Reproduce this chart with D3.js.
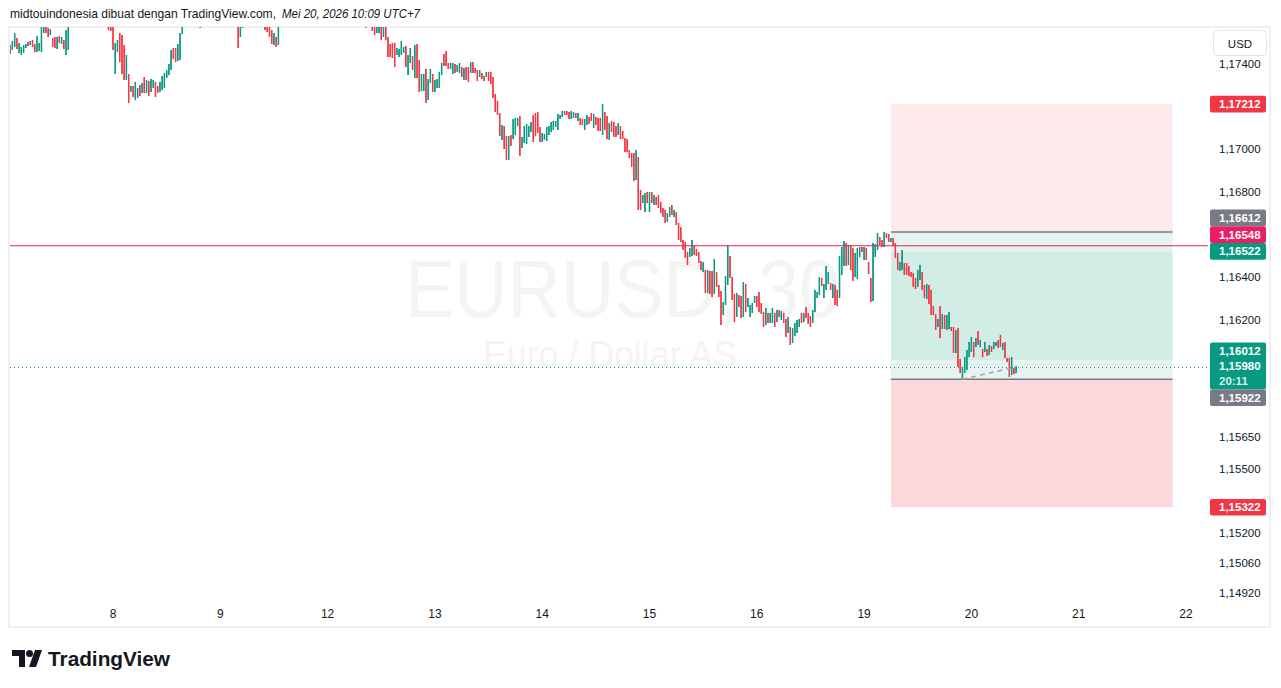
<!DOCTYPE html>
<html>
<head>
<meta charset="utf-8">
<script src="https://cdn.jsdelivr.net/npm/d3@7"></script>
<style>
  body { margin: 0; background: #ffffff; }
  svg { display: block; font-family: "Liberation Sans", Arial, sans-serif; }
</style>
</head>
<body>
<svg id="chart"></svg>
<script>
//data: EURUSD 30 min candles, first bar 7 Mei 2026 01:00 (UTC+7)
const opens = [
  1.17489,1.17466,1.17480,1.17522,1.17452,1.17442,1.17452,1.17475,1.17503,1.17489,
  1.17512,1.17494,1.17456,1.17461,1.17456,1.17545,1.17597,1.17569,1.17536,1.17522,
  1.17527,1.17470,1.17531,1.17494,1.17512,1.17442,1.17466,1.17597,1.17644,1.17738,
  1.17677,1.17747,1.17719,1.17681,1.17728,1.17709,1.17653,1.17691,1.17756,1.17728,
  1.17700,1.17653,1.17691,1.17653,1.17616,1.17606,1.17578,1.17353,1.17456,1.17545,
  1.17536,1.17489,1.17325,1.17353,1.17269,1.17297,1.17231,1.17241,1.17302,1.17264,
  1.17339,1.17264,1.17320,1.17269,1.17288,1.17316,1.17297,1.17269,1.17278,1.17288,
  1.17334,1.17348,1.17372,1.17475,1.17475,1.17414,1.17419,1.17541,1.17578,1.17630,
  1.17738,1.17677,1.17756,1.17700,1.17747,1.17569,1.17587,1.17653,1.17738,1.17691,
  1.17709,1.17784,1.17756,1.17691,1.17766,1.17738,1.17662,1.17691,1.17756,1.17728,
  1.17700,1.17625,1.17597,1.17527,1.17569,1.17606,1.17728,1.17672,1.17747,1.17691,
  1.17747,1.17719,1.17644,1.17700,1.17630,1.17606,1.17597,1.17559,1.17489,1.17527,
  1.17489,1.17606,1.17653,1.17747,1.17709,1.17766,1.17728,1.17747,1.17813,1.17784,
  1.17738,1.17794,1.17756,1.17813,1.17775,1.17719,1.17784,1.17756,1.17700,1.17728,
  1.17794,1.17766,1.17738,1.17681,1.17709,1.17775,1.17747,1.17691,1.17756,1.17719,
  1.17662,1.17691,1.17747,1.17719,1.17653,1.17709,1.17681,1.17616,1.17672,1.17644,
  1.17578,1.17634,1.17606,1.17597,1.17545,1.17545,1.17597,1.17527,1.17587,1.17527,
  1.17494,1.17498,1.17498,1.17442,1.17433,1.17442,1.17452,1.17484,1.17348,1.17405,
  1.17437,1.17334,1.17494,1.17419,1.17273,1.17273,1.17377,1.17231,1.17311,1.17353,
  1.17269,1.17288,1.17288,1.17348,1.17447,1.17461,1.17405,1.17377,1.17353,1.17400,
  1.17363,1.17358,1.17386,1.17325,1.17386,1.17386,1.17358,1.17409,1.17381,1.17372,
  1.17339,1.17358,1.17344,1.17339,1.17363,1.17363,1.17339,1.17259,1.17227,1.17170,
  1.17044,1.17109,1.17062,1.16950,1.17067,1.17048,1.17067,1.17109,1.17156,1.17006,
  1.17030,1.17025,1.17058,1.17081,1.17161,1.17170,1.17175,1.17105,1.17034,1.17044,
  1.17039,1.17067,1.17081,1.17091,1.17105,1.17091,1.17142,1.17152,1.17180,1.17180,
  1.17175,1.17142,1.17147,1.17170,1.17133,1.17147,1.17142,1.17091,1.17114,1.17152,
  1.17170,1.17100,1.17152,1.17147,1.17147,1.17067,1.17175,1.17156,1.17044,1.17133,
  1.17128,1.17109,1.17067,1.17109,1.17086,1.17053,1.17048,1.16997,1.16983,1.16983,
  1.16856,1.16964,1.16809,1.16748,1.16706,1.16800,1.16706,1.16800,1.16739,1.16776,
  1.16786,1.16753,1.16725,1.16716,1.16659,1.16683,1.16739,1.16683,1.16706,1.16655,
  1.16636,1.16575,1.16566,1.16519,1.16495,1.16500,1.16547,1.16533,1.16519,1.16476,
  1.16425,1.16434,1.16326,1.16430,1.16430,1.16322,1.16425,1.16364,1.16336,1.16223,
  1.16270,1.16364,1.16500,1.16401,1.16322,1.16214,1.16317,1.16312,1.16214,1.16369,
  1.16261,1.16214,1.16233,1.16280,1.16312,1.16331,1.16280,1.16237,1.16176,1.16233,
  1.16186,1.16186,1.16233,1.16190,1.16247,1.16200,1.16233,1.16205,1.16139,1.16167,
  1.16092,1.16125,1.16139,1.16167,1.16233,1.16190,1.16261,1.16233,1.16219,1.16186,
  1.16237,1.16303,1.16317,1.16397,1.16303,1.16341,1.16369,1.16373,1.16303,1.16364,
  1.16341,1.16303,1.16411,1.16453,1.16561,1.16458,1.16551,1.16537,1.16401,1.16392,
  1.16495,1.16542,1.16481,1.16537,1.16472,1.16397,1.16289,1.16495,1.16528,1.16589,
  1.16575,1.16542,1.16606,1.16603,1.16566,1.16584,1.16561,1.16514,1.16430,1.16434,
  1.16467,1.16467,1.16453,1.16425,1.16420,1.16397,1.16355,1.16387,1.16425,1.16364,
  1.16298,1.16364,1.16341,1.16265,1.16228,1.16167,1.16265,1.16158,1.16223,1.16153,
  1.16158,1.16167,1.16167,1.16045,1.16162,1.16017,1.15922,1.15951,1.15965,1.16026,
  1.16050,1.16097,1.16073,1.16148,1.16073,1.16064,1.16050,1.16064,1.16036,1.16078,
  1.16064,1.16078,1.16106,1.16130,1.16059,1.16097,1.16022,1.16022,1.15942,1.15975,
  1.15951
]
const highs = [
  1.17489,1.17508,1.17545,1.17522,1.17498,1.17480,1.17489,1.17494,1.17503,1.17508,
  1.17512,1.17494,1.17531,1.17498,1.17573,1.17597,1.17597,1.17569,1.17564,1.17522,
  1.17527,1.17527,1.17531,1.17527,1.17512,1.17559,1.17606,1.17677,1.17723,1.17738,
  1.17756,1.17747,1.17719,1.17738,1.17728,1.17709,1.17728,1.17766,1.17756,1.17728,
  1.17700,1.17719,1.17691,1.17653,1.17616,1.17606,1.17578,1.17498,1.17512,1.17545,
  1.17536,1.17489,1.17442,1.17353,1.17297,1.17297,1.17316,1.17288,1.17302,1.17311,
  1.17339,1.17325,1.17320,1.17330,1.17325,1.17316,1.17297,1.17316,1.17344,1.17358,
  1.17372,1.17400,1.17466,1.17475,1.17475,1.17494,1.17545,1.17587,1.17677,1.17723,
  1.17738,1.17770,1.17756,1.17784,1.17747,1.17662,1.17691,1.17728,1.17738,1.17766,
  1.17794,1.17784,1.17756,1.17775,1.17766,1.17738,1.17747,1.17766,1.17756,1.17728,
  1.17700,1.17709,1.17597,1.17616,1.17653,1.17700,1.17728,1.17756,1.17747,1.17770,
  1.17747,1.17719,1.17728,1.17700,1.17630,1.17606,1.17597,1.17559,1.17545,1.17527,
  1.17630,1.17700,1.17738,1.17747,1.17775,1.17766,1.17794,1.17822,1.17813,1.17784,
  1.17803,1.17794,1.17822,1.17813,1.17775,1.17794,1.17784,1.17756,1.17775,1.17803,
  1.17794,1.17766,1.17738,1.17756,1.17784,1.17775,1.17747,1.17766,1.17756,1.17719,
  1.17738,1.17766,1.17747,1.17719,1.17728,1.17709,1.17681,1.17700,1.17672,1.17644,
  1.17653,1.17634,1.17606,1.17597,1.17597,1.17606,1.17597,1.17597,1.17587,1.17527,
  1.17494,1.17498,1.17498,1.17475,1.17470,1.17508,1.17480,1.17484,1.17442,1.17475,
  1.17437,1.17489,1.17494,1.17419,1.17353,1.17353,1.17377,1.17330,1.17377,1.17353,
  1.17325,1.17330,1.17363,1.17405,1.17447,1.17461,1.17405,1.17405,1.17405,1.17400,
  1.17395,1.17405,1.17386,1.17381,1.17386,1.17386,1.17409,1.17409,1.17381,1.17372,
  1.17372,1.17358,1.17344,1.17363,1.17363,1.17363,1.17339,1.17259,1.17227,1.17170,
  1.17114,1.17109,1.17062,1.17062,1.17067,1.17142,1.17147,1.17147,1.17156,1.17058,
  1.17109,1.17119,1.17109,1.17128,1.17161,1.17170,1.17175,1.17105,1.17077,1.17072,
  1.17105,1.17109,1.17128,1.17133,1.17133,1.17166,1.17161,1.17180,1.17180,1.17180,
  1.17175,1.17180,1.17175,1.17170,1.17170,1.17147,1.17142,1.17142,1.17161,1.17152,
  1.17170,1.17166,1.17152,1.17147,1.17147,1.17212,1.17175,1.17156,1.17123,1.17133,
  1.17128,1.17109,1.17123,1.17109,1.17086,1.17053,1.17048,1.16997,1.16983,1.16983,
  1.16997,1.16964,1.16809,1.16786,1.16795,1.16800,1.16800,1.16800,1.16786,1.16776,
  1.16786,1.16753,1.16725,1.16716,1.16701,1.16730,1.16739,1.16716,1.16706,1.16655,
  1.16636,1.16575,1.16566,1.16519,1.16537,1.16575,1.16547,1.16533,1.16519,1.16476,
  1.16472,1.16434,1.16434,1.16430,1.16430,1.16486,1.16425,1.16364,1.16336,1.16284,
  1.16406,1.16551,1.16500,1.16401,1.16322,1.16326,1.16317,1.16312,1.16378,1.16369,
  1.16303,1.16270,1.16280,1.16312,1.16312,1.16331,1.16280,1.16237,1.16256,1.16233,
  1.16233,1.16256,1.16233,1.16247,1.16247,1.16242,1.16233,1.16205,1.16214,1.16167,
  1.16162,1.16186,1.16200,1.16205,1.16233,1.16233,1.16261,1.16233,1.16219,1.16247,
  1.16341,1.16331,1.16401,1.16397,1.16369,1.16453,1.16425,1.16373,1.16369,1.16364,
  1.16341,1.16500,1.16542,1.16570,1.16561,1.16551,1.16551,1.16537,1.16514,1.16537,
  1.16542,1.16542,1.16542,1.16537,1.16472,1.16397,1.16561,1.16556,1.16608,1.16589,
  1.16575,1.16612,1.16606,1.16603,1.16584,1.16584,1.16561,1.16514,1.16472,1.16528,
  1.16467,1.16467,1.16453,1.16425,1.16420,1.16397,1.16434,1.16458,1.16425,1.16364,
  1.16369,1.16364,1.16341,1.16265,1.16228,1.16205,1.16265,1.16228,1.16223,1.16223,
  1.16237,1.16167,1.16167,1.16153,1.16162,1.16017,1.15980,1.16026,1.16059,1.16097,
  1.16120,1.16097,1.16115,1.16148,1.16106,1.16064,1.16097,1.16064,1.16083,1.16078,
  1.16097,1.16097,1.16106,1.16130,1.16092,1.16097,1.16022,1.16022,1.16026,1.15975,
  1.15985
]
const lows = [
  1.17447,1.17466,1.17480,1.17470,1.17452,1.17442,1.17452,1.17475,1.17484,1.17489,
  1.17480,1.17456,1.17456,1.17461,1.17456,1.17545,1.17545,1.17527,1.17536,1.17480,
  1.17475,1.17470,1.17498,1.17494,1.17470,1.17442,1.17466,1.17597,1.17644,1.17662,
  1.17677,1.17672,1.17653,1.17681,1.17658,1.17634,1.17653,1.17691,1.17672,1.17644,
  1.17625,1.17653,1.17597,1.17578,1.17559,1.17555,1.17466,1.17353,1.17456,1.17409,
  1.17353,1.17325,1.17325,1.17217,1.17269,1.17245,1.17231,1.17241,1.17250,1.17264,
  1.17264,1.17264,1.17250,1.17269,1.17288,1.17245,1.17264,1.17269,1.17278,1.17288,
  1.17334,1.17348,1.17372,1.17423,1.17409,1.17414,1.17419,1.17541,1.17578,1.17630,
  1.17653,1.17677,1.17662,1.17700,1.17644,1.17569,1.17587,1.17653,1.17662,1.17691,
  1.17709,1.17700,1.17672,1.17691,1.17681,1.17644,1.17662,1.17691,1.17672,1.17634,
  1.17606,1.17625,1.17475,1.17527,1.17569,1.17606,1.17634,1.17672,1.17662,1.17691,
  1.17653,1.17634,1.17644,1.17606,1.17559,1.17550,1.17527,1.17494,1.17489,1.17480,
  1.17489,1.17606,1.17653,1.17677,1.17709,1.17700,1.17728,1.17747,1.17738,1.17719,
  1.17738,1.17728,1.17756,1.17738,1.17700,1.17719,1.17709,1.17681,1.17700,1.17728,
  1.17719,1.17691,1.17662,1.17681,1.17709,1.17700,1.17672,1.17691,1.17672,1.17644,
  1.17662,1.17691,1.17662,1.17634,1.17653,1.17625,1.17606,1.17616,1.17587,1.17569,
  1.17578,1.17573,1.17555,1.17536,1.17545,1.17545,1.17512,1.17527,1.17512,1.17433,
  1.17433,1.17428,1.17386,1.17442,1.17433,1.17442,1.17452,1.17386,1.17348,1.17405,
  1.17372,1.17334,1.17334,1.17269,1.17273,1.17273,1.17217,1.17231,1.17311,1.17269,
  1.17269,1.17288,1.17288,1.17348,1.17391,1.17391,1.17377,1.17377,1.17353,1.17358,
  1.17363,1.17358,1.17339,1.17325,1.17325,1.17316,1.17358,1.17358,1.17358,1.17320,
  1.17339,1.17330,1.17320,1.17339,1.17320,1.17306,1.17241,1.17175,1.17161,1.17062,
  1.17044,1.17002,1.16950,1.16950,1.17016,1.17048,1.17067,1.17109,1.16969,1.17006,
  1.17030,1.17025,1.17058,1.17081,1.17034,1.17062,1.17077,1.17034,1.17034,1.17044,
  1.17039,1.17067,1.17081,1.17091,1.17105,1.17091,1.17142,1.17152,1.17161,1.17161,
  1.17142,1.17142,1.17147,1.17147,1.17133,1.17114,1.17114,1.17091,1.17114,1.17119,
  1.17133,1.17100,1.17114,1.17086,1.17086,1.17067,1.17091,1.17048,1.17044,1.17081,
  1.17058,1.17058,1.17067,1.17048,1.17048,1.16987,1.16987,1.16959,1.16917,1.16851,
  1.16856,1.16716,1.16716,1.16748,1.16706,1.16748,1.16706,1.16748,1.16739,1.16739,
  1.16725,1.16701,1.16683,1.16655,1.16659,1.16683,1.16692,1.16683,1.16645,1.16575,
  1.16566,1.16528,1.16491,1.16458,1.16495,1.16500,1.16505,1.16500,1.16467,1.16434,
  1.16425,1.16326,1.16326,1.16322,1.16308,1.16322,1.16355,1.16308,1.16176,1.16223,
  1.16270,1.16364,1.16397,1.16294,1.16190,1.16214,1.16261,1.16209,1.16214,1.16237,
  1.16261,1.16214,1.16233,1.16280,1.16261,1.16237,1.16228,1.16167,1.16176,1.16186,
  1.16186,1.16186,1.16167,1.16190,1.16214,1.16200,1.16186,1.16120,1.16139,1.16083,
  1.16092,1.16125,1.16139,1.16167,1.16186,1.16190,1.16209,1.16181,1.16167,1.16186,
  1.16237,1.16303,1.16317,1.16359,1.16303,1.16341,1.16369,1.16341,1.16303,1.16270,
  1.16265,1.16303,1.16411,1.16453,1.16453,1.16458,1.16434,1.16383,1.16401,1.16392,
  1.16495,1.16519,1.16481,1.16481,1.16415,1.16284,1.16289,1.16495,1.16528,1.16551,
  1.16542,1.16542,1.16584,1.16566,1.16566,1.16547,1.16491,1.16434,1.16430,1.16434,
  1.16411,1.16411,1.16406,1.16401,1.16355,1.16345,1.16355,1.16387,1.16341,1.16303,
  1.16298,1.16275,1.16223,1.16223,1.16153,1.16167,1.16115,1.16158,1.16158,1.16153,
  1.16158,1.16148,1.16045,1.16045,1.15980,1.15951,1.15922,1.15951,1.15965,1.16026,
  1.16050,1.16026,1.16073,1.16083,1.16073,1.16026,1.16050,1.16031,1.16036,1.16050,
  1.16064,1.16078,1.16069,1.16073,1.16059,1.16022,1.16003,1.15933,1.15942,1.15947,
  1.15951
]
const closes = [
  1.17447,1.17508,1.17545,1.17470,1.17498,1.17480,1.17489,1.17494,1.17484,1.17508,
  1.17480,1.17456,1.17531,1.17498,1.17573,1.17597,1.17545,1.17527,1.17564,1.17480,
  1.17475,1.17527,1.17498,1.17527,1.17470,1.17559,1.17606,1.17677,1.17723,1.17662,
  1.17756,1.17672,1.17653,1.17738,1.17658,1.17634,1.17728,1.17766,1.17672,1.17644,
  1.17625,1.17719,1.17597,1.17578,1.17559,1.17555,1.17466,1.17498,1.17512,1.17409,
  1.17353,1.17325,1.17442,1.17217,1.17297,1.17245,1.17316,1.17288,1.17250,1.17311,
  1.17264,1.17325,1.17250,1.17330,1.17325,1.17245,1.17264,1.17316,1.17344,1.17358,
  1.17372,1.17400,1.17466,1.17423,1.17409,1.17494,1.17545,1.17587,1.17677,1.17723,
  1.17653,1.17770,1.17662,1.17784,1.17644,1.17662,1.17691,1.17728,1.17662,1.17766,
  1.17794,1.17700,1.17672,1.17775,1.17681,1.17644,1.17747,1.17766,1.17672,1.17634,
  1.17606,1.17709,1.17475,1.17616,1.17653,1.17700,1.17634,1.17756,1.17662,1.17770,
  1.17653,1.17634,1.17728,1.17606,1.17559,1.17550,1.17527,1.17494,1.17545,1.17480,
  1.17630,1.17700,1.17738,1.17677,1.17775,1.17700,1.17794,1.17822,1.17738,1.17719,
  1.17803,1.17728,1.17822,1.17738,1.17700,1.17794,1.17709,1.17681,1.17775,1.17803,
  1.17719,1.17691,1.17662,1.17756,1.17784,1.17700,1.17672,1.17766,1.17672,1.17644,
  1.17738,1.17766,1.17662,1.17634,1.17728,1.17625,1.17606,1.17700,1.17587,1.17569,
  1.17653,1.17573,1.17555,1.17536,1.17597,1.17606,1.17512,1.17597,1.17512,1.17433,
  1.17433,1.17428,1.17386,1.17475,1.17470,1.17508,1.17480,1.17386,1.17442,1.17475,
  1.17372,1.17489,1.17334,1.17269,1.17353,1.17353,1.17217,1.17330,1.17377,1.17269,
  1.17325,1.17330,1.17363,1.17405,1.17391,1.17391,1.17377,1.17405,1.17405,1.17358,
  1.17395,1.17405,1.17339,1.17381,1.17325,1.17316,1.17409,1.17358,1.17358,1.17320,
  1.17372,1.17330,1.17320,1.17363,1.17320,1.17306,1.17241,1.17175,1.17161,1.17062,
  1.17114,1.17002,1.16950,1.17062,1.17016,1.17142,1.17147,1.17147,1.16969,1.17058,
  1.17109,1.17119,1.17109,1.17128,1.17034,1.17062,1.17077,1.17034,1.17077,1.17072,
  1.17105,1.17109,1.17128,1.17133,1.17133,1.17166,1.17161,1.17180,1.17161,1.17161,
  1.17142,1.17180,1.17175,1.17147,1.17170,1.17114,1.17114,1.17142,1.17161,1.17119,
  1.17133,1.17166,1.17114,1.17086,1.17086,1.17212,1.17091,1.17048,1.17123,1.17081,
  1.17058,1.17058,1.17123,1.17048,1.17048,1.16987,1.16987,1.16959,1.16917,1.16851,
  1.16997,1.16716,1.16716,1.16786,1.16795,1.16748,1.16800,1.16748,1.16786,1.16739,
  1.16725,1.16701,1.16683,1.16655,1.16701,1.16730,1.16692,1.16716,1.16645,1.16575,
  1.16566,1.16528,1.16491,1.16458,1.16537,1.16575,1.16505,1.16500,1.16467,1.16434,
  1.16472,1.16326,1.16434,1.16322,1.16308,1.16486,1.16355,1.16308,1.16176,1.16284,
  1.16406,1.16551,1.16397,1.16294,1.16190,1.16326,1.16261,1.16209,1.16378,1.16237,
  1.16303,1.16270,1.16280,1.16312,1.16261,1.16237,1.16228,1.16167,1.16256,1.16186,
  1.16233,1.16256,1.16167,1.16247,1.16214,1.16242,1.16186,1.16120,1.16214,1.16083,
  1.16162,1.16186,1.16200,1.16205,1.16186,1.16233,1.16209,1.16181,1.16167,1.16247,
  1.16341,1.16331,1.16401,1.16359,1.16369,1.16453,1.16425,1.16341,1.16369,1.16270,
  1.16265,1.16500,1.16542,1.16570,1.16453,1.16551,1.16434,1.16383,1.16514,1.16537,
  1.16542,1.16519,1.16542,1.16481,1.16415,1.16284,1.16561,1.16556,1.16608,1.16551,
  1.16542,1.16612,1.16584,1.16566,1.16584,1.16547,1.16491,1.16434,1.16472,1.16528,
  1.16411,1.16411,1.16406,1.16401,1.16355,1.16345,1.16434,1.16458,1.16341,1.16303,
  1.16369,1.16275,1.16223,1.16223,1.16153,1.16205,1.16115,1.16228,1.16158,1.16223,
  1.16237,1.16148,1.16045,1.16153,1.15980,1.15951,1.15980,1.16026,1.16059,1.16097,
  1.16120,1.16026,1.16115,1.16083,1.16106,1.16026,1.16097,1.16031,1.16083,1.16050,
  1.16097,1.16097,1.16069,1.16073,1.16092,1.16022,1.16003,1.15933,1.16026,1.15947,
  1.15980
]

//price scale tick labels
const priceTicks = [1.174, 1.172, 1.170, 1.168, 1.166, 1.164, 1.162, 1.160, 1.158,
  1.1565, 1.155, 1.1535, 1.152, 1.1506, 1.1492]

//drawings
const horizontalLine = 1.16548
const shortStop = 1.17212
const shortEntry = 1.16612
const targetLevel = 1.16522
const fillLevel = 1.16012
const longEntry = 1.15922
const longStop = 1.15322
const toolStartBar = 394
const toolEndBar = 520
const countdown = '20:11'
const headerText = 'midtouindonesia dibuat dengan TradingView.com,'
const headerDate = 'Mei 20, 2026 10:09 UTC+7'

function drawChart() {
    //dimensions
    const w = 1281
    const h = 688
    const pane = { left: 10, right: 1208, top: 27, bottom: 600 }
    const up = '#089981'
    const down = '#f23645'
    const fmt = v => d3.format('.5f')(v).replace('.', ',')

    const svg = d3.select('#chart').attr('width', w).attr('height', h)
    svg.append('rect').attr('width', w).attr('height', h).attr('fill', '#ffffff')

    //bar times (30 min, weekend gap from Saturday 04:00 to Monday 04:00)
    const barTimes = []
    let t = Date.UTC(2026, 4, 7, 1, 0)
    for (let i = 0; i < 560; i++) {
        barTimes.push(new Date(t))
        t += 30 * 60000
        const d = new Date(t)
        if (d.getUTCDay() === 6 && d.getUTCHours() === 4 && d.getUTCMinutes() === 0) t += 48 * 3600000
    }
    const bars = opens.map((o, i) => ({ i, o, h: highs[i], l: lows[i], c: closes[i] }))

    //scales
    const xScale = d3.scaleLinear().domain([46, 526]).range([113, 1186])
    const yScale = d3.scaleLinear().domain([1.1492, 1.174]).range([593, 64])

    //frame
    svg.append('rect')
        .attr('x', 9).attr('y', 27).attr('width', 1261).attr('height', 600)
        .attr('fill', 'none').attr('stroke', '#eef0f3').attr('stroke-width', 2)

    svg.append('defs').append('clipPath').attr('id', 'paneClip')
        .append('rect')
        .attr('x', pane.left).attr('y', pane.top)
        .attr('width', pane.right - pane.left).attr('height', pane.bottom - pane.top)

    const plot = svg.append('g').attr('clip-path', 'url(#paneClip)')

    //watermark
    plot.append('text')
        .attr('x', 405).attr('y', 317)
        .attr('textLength', 435).attr('lengthAdjust', 'spacingAndGlyphs')
        .style('font-size', '82px').attr('fill', '#f4f4f5')
        .text('EURUSD, 30')
    plot.append('text')
        .attr('x', 483).attr('y', 368)
        .attr('textLength', 254).attr('lengthAdjust', 'spacingAndGlyphs')
        .style('font-size', '38px').attr('fill', '#f4f4f5')
        .text('Euro / Dollar AS')

    //position tool
    const x0 = xScale(toolStartBar)
    const x1 = xScale(toolEndBar)
    const bands = [
        [shortStop, shortEntry, '#fdebec'],
        [shortEntry, targetLevel, '#e6f4f1'],
        [targetLevel, fillLevel, '#d2ece6'],
        [fillLevel, longEntry, '#e6f4f1'],
        [longEntry, longStop, '#fad8db']
    ]
    plot.selectAll('rect.band').data(bands).join('rect')
        .attr('class', 'band')
        .attr('x', x0).attr('width', x1 - x0)
        .attr('y', d => yScale(d[0]))
        .attr('height', d => yScale(d[1]) - yScale(d[0]))
        .attr('fill', d => d[2])

    //candles
    const barW = 1.3
    plot.selectAll('line.wick').data(bars).join('line')
        .attr('class', 'wick')
        .attr('x1', d => xScale(d.i))
        .attr('x2', d => xScale(d.i))
        .attr('y1', d => yScale(d.h))
        .attr('y2', d => yScale(d.l))
        .attr('stroke', d => d.c >= d.o ? up : down)
        .attr('stroke-width', barW)
    plot.selectAll('rect.body').data(bars).join('rect')
        .attr('class', 'body')
        .attr('x', d => xScale(d.i) - barW / 2)
        .attr('width', barW)
        .attr('y', d => yScale(Math.max(d.o, d.c)))
        .attr('height', d => Math.max(1, Math.abs(yScale(d.o) - yScale(d.c))))
        .attr('fill', d => d.c >= d.o ? up : down)

    //entry lines of the position tool
    plot.selectAll('line.entry').data([shortEntry, longEntry]).join('line')
        .attr('class', 'entry')
        .attr('x1', x0).attr('x2', x1)
        .attr('y1', d => yScale(d)).attr('y2', d => yScale(d))
        .attr('stroke', '#787b86').attr('stroke-width', 1.5)

    //dashed line from the entry fill to the last bar
    const last = bars[bars.length - 1]
    plot.append('line')
        .attr('x1', xScale(426)).attr('y1', yScale(longEntry))
        .attr('x2', xScale(last.i)).attr('y2', yScale(last.c))
        .attr('stroke', '#a3a6af').attr('stroke-width', 1.5)
        .attr('stroke-dasharray', '5,4')

    //horizontal line
    plot.append('line')
        .attr('x1', pane.left).attr('x2', pane.right)
        .attr('y1', yScale(horizontalLine)).attr('y2', yScale(horizontalLine))
        .attr('stroke', '#e91e63').attr('stroke-width', 1)

    //last price line
    plot.append('line')
        .attr('x1', pane.left).attr('x2', pane.right)
        .attr('y1', Math.round(yScale(last.c)) + 0.5).attr('y2', Math.round(yScale(last.c)) + 0.5)
        .attr('stroke', up).attr('stroke-width', 1)
        .attr('stroke-dasharray', '1,3')

    //time axis
    const dayTicks = []
    let prevDate = barTimes[0].getUTCDate()
    let lastX = -1000
    barTimes.forEach((d, i) => {
        if (d.getUTCDate() !== prevDate) {
            prevDate = d.getUTCDate()
            if (xScale(i) - lastX > 50 && xScale(i) < pane.right) {
                dayTicks.push({ i, label: prevDate })
                lastX = xScale(i)
            }
        }
    })
    svg.selectAll('text.day').data(dayTicks).join('text')
        .attr('class', 'day')
        .attr('x', d => xScale(d.i)).attr('y', 618)
        .attr('text-anchor', 'middle')
        .style('font-size', '12px').attr('fill', '#131722')
        .text(d => d.label)

    //price labels, stacked so they do not overlap
    const placed = []
    const labelH = 16.7
    function place(center, hgt) {
        const t0 = center - hgt / 2
        const fits = top => placed.every(p => top + hgt <= p.top + 0.01 || top >= p.bottom - 0.01)
        for (let d = 0; d < 300; d += 0.1) {
            for (const top of [t0 - d, t0 + d]) {
                if (fits(top)) { placed.push({ top, bottom: top + hgt }); return top }
            }
        }
        return t0
    }

    const lastY = yScale(last.c)
    const blockTop = place(lastY - 1, 47)
    const levels = [
        { v: targetLevel, color: up },
        { v: shortStop, color: down },
        { v: longStop, color: down },
        { v: horizontalLine, color: '#e91e63' },
        { v: longEntry, color: '#787b86' },
        { v: shortEntry, color: '#787b86' }
    ]
    levels.forEach(l => { l.top = place(yScale(l.v), labelH) })

    //price axis ticks that are not covered by a label
    const freeTicks = priceTicks.filter(v => {
        const y = yScale(v)
        return placed.every(p => y + 6 < p.top || y - 6 > p.bottom)
    })
    svg.selectAll('text.tick').data(freeTicks).join('text')
        .attr('class', 'tick')
        .attr('x', 1219).attr('y', d => yScale(d) + 4)
        .style('font-size', '11.5px').attr('fill', '#131722')
        .text(d => fmt(d))

    const axisG = svg.append('g')
    //last price block with countdown
    axisG.append('rect')
        .attr('x', 1210).attr('y', blockTop).attr('width', 56).attr('height', 47)
        .attr('rx', 2).attr('fill', up)
    const blockLines = [fmt(fillLevel), fmt(last.c), countdown]
    axisG.selectAll('text.block').data(blockLines).join('text')
        .attr('class', 'block')
        .attr('x', 1219).attr('y', (d, k) => blockTop + 12.5 + k * 15)
        .style('font-size', '11.5px').style('font-weight', 'bold')
        .attr('fill', (d, k) => k === 2 ? '#d6f0eb' : '#ffffff')
        .text(d => d)

    axisG.selectAll('rect.badge').data(levels).join('rect')
        .attr('class', 'badge')
        .attr('x', 1210).attr('y', d => d.top).attr('width', 56).attr('height', labelH)
        .attr('rx', 2).attr('fill', d => d.color)
    axisG.selectAll('text.badge').data(levels).join('text')
        .attr('class', 'badge')
        .attr('x', 1219).attr('y', d => d.top + 12.5)
        .style('font-size', '11.5px').style('font-weight', 'bold')
        .attr('fill', '#ffffff')
        .text(d => fmt(d.v))

    //currency button
    svg.append('rect')
        .attr('x', 1213.5).attr('y', 30.5).attr('width', 53).attr('height', 25)
        .attr('rx', 4).attr('fill', '#ffffff').attr('stroke', '#e0e3eb')
    svg.append('text')
        .attr('x', 1240).attr('y', 47.5).attr('text-anchor', 'middle')
        .style('font-size', '11.5px').attr('fill', '#131722')
        .text('USD')

    //header
    svg.append('text')
        .attr('x', 10).attr('y', 18)
        .attr('textLength', 266).attr('lengthAdjust', 'spacingAndGlyphs')
        .style('font-size', '13px').attr('fill', '#131722')
        .text(headerText)
    svg.append('text')
        .attr('x', 282).attr('y', 18)
        .attr('textLength', 138).attr('lengthAdjust', 'spacingAndGlyphs')
        .style('font-size', '13px').style('font-style', 'italic').attr('fill', '#131722')
        .text(headerDate)

    //logo
    const logo = svg.append('g').attr('fill', '#131722')
    logo.append('path').attr('d', 'M12,650 H25 V667 H19 V656 H12 Z')
    logo.append('circle').attr('cx', 29.5).attr('cy', 653.5).attr('r', 3.5)
    logo.append('path').attr('d', 'M35,650 H42 L36,667 H29 Z')
    svg.append('text')
        .attr('x', 48).attr('y', 666)
        .attr('textLength', 122).attr('lengthAdjust', 'spacingAndGlyphs')
        .style('font-size', '20px').style('font-weight', 'bold')
        .attr('fill', '#131722')
        .text('TradingView')
}

drawChart()
</script>
</body>
</html>
